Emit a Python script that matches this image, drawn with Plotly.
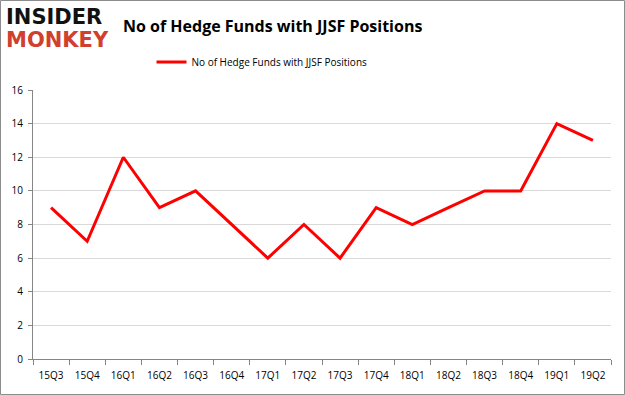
import plotly.graph_objects as go

quarters = ["15Q3","15Q4","16Q1","16Q2","16Q3","16Q4","17Q1","17Q2","17Q3","17Q4","18Q1","18Q2","18Q3","18Q4","19Q1","19Q2"]
funds = [9,7,12,9,10,8,6,8,6,9,8,9,10,10,14,13]
series_name = "No of Hedge Funds with JJSF Positions"
yticks = [0,2,4,6,8,10,12,14,16]

W, H = 625, 395
L, R, T, B = 33, 14, 90, 36
pw, ph = W - L - R, H - T - B

fig = go.Figure()
fig.add_trace(go.Scatter(x=quarters, y=funds, mode="lines", name=series_name,
                         line=dict(color="#ff0000", width=3)))

def px(xpix):
    return (xpix - L) / pw
def py(ypix):
    return 1 - (ypix - T) / ph

fig.update_layout(
    width=W, height=H,
    margin=dict(l=L, r=R, t=T, b=B),
    paper_bgcolor="white", plot_bgcolor="white",
    font=dict(family="Open Sans, DejaVu Sans, sans-serif", size=10, color="#000"),
    showlegend=True,
    legend=dict(orientation="h", x=px(262), xanchor="center", y=py(62), yanchor="middle",
                font=dict(size=10), bgcolor="rgba(0,0,0,0)"),
    xaxis=dict(type="category", range=[-0.5, 15.5], showgrid=False, showline=True,
               linecolor="#868686", linewidth=1, ticks="outside", tickson="boundaries",
               ticklen=5, tickcolor="#868686", tickfont=dict(size=10), fixedrange=True,
               ticklabelstandoff=7),
    yaxis=dict(range=[0,16], tickvals=yticks, showgrid=True, gridcolor="#d9d9d9",
               showline=True, linecolor="#868686", linewidth=1, ticks="outside",
               ticklen=4, tickcolor="#868686", zeroline=False, tickfont=dict(size=10),
               ticklabelstandoff=3),
    annotations=[
        dict(text="<b>No of Hedge Funds with JJSF Positions</b>", x=px(272), y=py(26),
             xref="paper", yref="paper", showarrow=False, xanchor="center", yanchor="middle",
             font=dict(size=16, color="#000", family="Open Sans, sans-serif")),
        dict(text="<b>INSIDER</b>", x=px(4), y=py(17), xref="paper", yref="paper",
             showarrow=False, xanchor="left", yanchor="middle",
             font=dict(size=21, color="#111111", family="DejaVu Sans, sans-serif")),
        dict(text="<b>MONKEY</b>", x=px(4), y=py(40), xref="paper", yref="paper",
             showarrow=False, xanchor="left", yanchor="middle",
             font=dict(size=21, color="#d0402c", family="DejaVu Sans, sans-serif")),
    ],
    shapes=[dict(type="rect", xref="paper", yref="paper",
                 x0=px(0.5), x1=px(W-0.5), y0=py(H-0.5), y1=py(0.5),
                 line=dict(color="#8c8c8c", width=1), fillcolor="rgba(0,0,0,0)")],
)
fig.write_html("out.html", config={"displayModeBar": False},
               post_script="document.body.style.margin='0';document.body.style.padding='0';")
